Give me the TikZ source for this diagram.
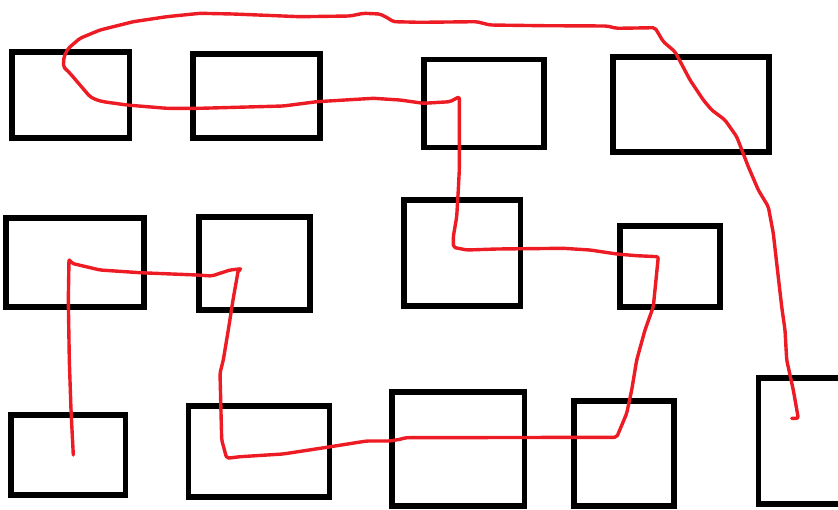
\documentclass[tikz,border=0pt]{standalone}
\usepackage{tikz}
\definecolor{inkred}{RGB}{237,28,36}
\begin{document}
\begin{tikzpicture}[x=1pt, y=-1pt,
  box/.style={draw=black, line width=5.3pt, rectangle, inner sep=0pt, minimum width=#1},
  pen/.style={draw=inkred, line width=3.4pt, line join=round, line cap=round, rounded corners=2pt}]
  \useasboundingbox (0,0) rectangle (838,509);
  \clip (0,0) rectangle (838,509);
  % Row 1: top
  \node[box=117.5pt, minimum height=86pt] (r1) at (70.8,95) {};
  \node[box=127pt, minimum height=84pt] (r2) at (256.5,96) {};
  \node[box=120pt, minimum height=88pt] (r3) at (484,103.5) {};
  \node[box=156pt, minimum height=95pt] (r4) at (691,104.5) {};
  % Row 2: middle
  \node[box=138pt, minimum height=89pt] (r5) at (75,262.5) {};
  \node[box=111pt, minimum height=93pt] (r6) at (254.5,263.5) {};
  \node[box=116.5pt, minimum height=106pt] (r7) at (462.2,253) {};
  \node[box=100pt, minimum height=81pt] (r8) at (670,266.5) {};
  % Row 3: bottom
  \node[box=114.5pt, minimum height=80pt] (r9) at (68.2,455) {};
  \node[box=141pt, minimum height=91pt] (r10) at (259,451.5) {};
  \node[box=132.5pt, minimum height=114pt] (r11) at (458.2,449) {};
  \node[box=100pt, minimum height=105pt] (r12) at (624,453.5) {};
  \node[box=121.5pt, minimum height=126pt] (r13) at (819.2,441) {};
  % Red route, drawn by hand
  \coordinate (start) at (73.3,455);
  \coordinate (finish) at (798.3,418.3);
  \draw[pen] (start) -- (71,410) -- (69.3,360) -- (68.3,300) -- (69,259)
    -- (71.7,263.3) -- (100,270) -- (140,272.7) -- (196.7,275) -- (211.7,276)
    -- (230,270) -- (241.7,268.7) -- (238.3,270) -- (233,300) -- (228.3,330)
    -- (223.3,360) -- (220,373) -- (221.7,440) -- (226.7,458.3) -- (240,456.7)
    -- (283,454) -- (326.7,447.3) -- (366.7,441) -- (390,441) -- (401.7,439)
    -- (405,437.7) -- (616.7,437.3) -- (626.7,413.3) -- (631.7,390)
    -- (636.7,360) -- (645,330) -- (653.3,306.7) -- (658.3,256.7)
    -- (636.7,255.7) -- (616.7,254) -- (590,250) -- (563.3,248.3)
    -- (496.7,249) -- (466.7,250) -- (453.3,247.3) -- (453.3,236.7)
    -- (456.7,216.7) -- (458.3,190) -- (459.3,170) -- (459.3,96.7)
    -- (450,101.7) -- (423.3,103.3) -- (400,100) -- (373.3,98.3)
    -- (316.7,101.7) -- (283.3,106) -- (200,108.3) -- (166.7,108.3)
    -- (126.7,105) -- (103.3,101.7) -- (96.7,100) -- (90,96.7) -- (70,73.3)
    -- (63.3,66.7) -- (64,56.7) -- (68.3,48.3) -- (80,38.3) -- (100,30)
    -- (133.3,21.7) -- (166.7,16.7) -- (200,13.3) -- (233.3,14) -- (300,16.7)
    -- (350,16) -- (363.3,13.3) -- (380,14) -- (388.3,18.3) -- (393.3,21.7)
    -- (420,22.3) -- (476.7,21.7) -- (490,25) -- (543.3,25.7) -- (606.7,26)
    -- (616.7,28.3) -- (655,27.7) -- (663.3,41.7) -- (675,51.7) -- (690,80)
    -- (703.3,100) -- (711.7,110) -- (725,120) -- (736.7,136.7)
    -- (748.3,166.7) -- (758.3,190) -- (768.3,206.7) -- (773.3,233.3)
    -- (776.7,263.3) -- (781.7,306.7) -- (785,330) -- (786.7,360)
    -- (793.3,390) -- (finish) -- (791.7,418.3);
\end{tikzpicture}
\end{document}
